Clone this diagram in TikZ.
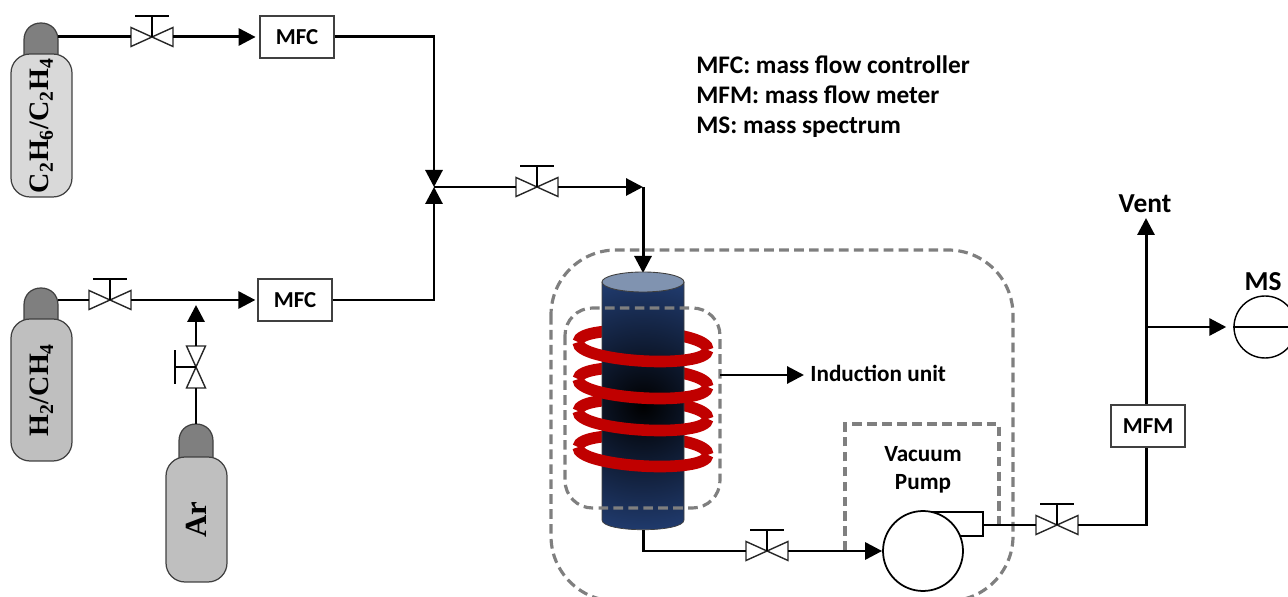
\documentclass[tikz,border=0pt]{standalone}
\usepackage{fontspec}
\setmainfont{Carlito}
\newfontfamily\gasfont{Liberation Serif}
\usetikzlibrary{positioning,arrows.meta}
\definecolor{rigGrey}{HTML}{7F7F7F}
\definecolor{rigEdge}{HTML}{404040}
\definecolor{rigLight}{HTML}{D9D9D9}
\definecolor{rigMid}{HTML}{BFBFBF}
\definecolor{rigNavy}{HTML}{203A6C}
\definecolor{rigTop}{HTML}{8093B0}
\definecolor{rigRed}{HTML}{C00000}
\newcommand{\gas}[1]{{\gasfont\bfseries #1}}

\begin{document}
\begin{tikzpicture}[x=0.02cm, y=-0.02cm,
      a/.style={-{Triangle[length=3.4mm, width=3.4mm]}, line width=1.7pt},
      pipe/.style={line width=1.7pt},
      gap/.style={shorten >=#1},
      box/.style={draw=rigEdge, fill=white, line width=1pt, inner sep=0pt,
        minimum width=1.48cm, minimum height=0.84cm, font=\bfseries\fontsize{13}{15}\selectfont},
      lbl/.style={inner sep=0pt, font=\bfseries\fontsize{13.2}{15}\selectfont},
      leg/.style={inner sep=0pt, anchor=base west, font=\bfseries\fontsize{14.4}{17}\selectfont},
      big/.style={inner sep=0pt, font=\bfseries\fontsize{15.6}{18}\selectfont},
      tank/.style={draw=rigEdge, line width=0.7pt, rounded corners=0.38cm, rotate=90, inner sep=0pt,
        minimum height=1.22cm, font=\fontsize{16}{18}\selectfont},
      dbox/.style={draw=rigGrey, line width=1.8pt, dash pattern=on 5.5pt off 3pt},
      coil/.style={draw=rigRed, line width=6.6pt},
      valve/.pic={
        \draw[line width=0.8pt, fill=white, draw=black!85] (0,0) -- (-21,-9.5) -- (-21,9.5) -- cycle;
        \draw[line width=0.8pt, fill=white, draw=black!85] (0,0) -- (21,-9.5) -- (21,9.5) -- cycle;
        \draw[line width=0.8pt] (0,0) -- (0,-21) (-17,-21) -- (17,-21);
        \coordinate (-w) at (-21,0);
        \coordinate (-e) at (21,0);
      },
      head/.pic={
        \draw[draw=rigEdge, fill=rigGrey, line width=0.7pt] (-17,34) -- (-17,17)
          .. controls (-17,7) and (-10,0) .. (0,0)
          .. controls (10,0) and (17,7) .. (17,17) -- (17,34) -- cycle;
        \coordinate (-top) at (0,0);
        \coordinate (-out) at (17,14);
      }]
    \useasboundingbox (0,0) rectangle (1288,597);
    \clip (0,0) rectangle (1288,597);
    % gas bottles
    \pic (headA) at (41,23) {head};
    \node[tank, fill=rigLight, minimum width=2.86cm] (tankA) at (41.5,125.5)
      {\gas{C\textsubscript{2}H\textsubscript{6}/C\textsubscript{2}H\textsubscript{4}}};
    \pic (headB) at (41,288) {head};
    \node[tank, fill=rigMid, minimum width=2.84cm] (tankB) at (41.5,390)
      {\gas{H\textsubscript{2}/CH\textsubscript{4}}};
    \pic (headC) at (196,424) {head};
    \node[tank, fill=rigMid, minimum width=2.5cm, font=\fontsize{17.5}{20}\selectfont] (tankC) at (196.5,519.5) {\gas{Ar}};
    % feed lines
    \pic (vA) at (152,37) {valve};
    \pic (vB) at (110,300) {valve};
    \pic[rotate=90] (vD) at (196,367) {valve};
    \pic (vC) at (537,187) {valve};
    \node[box] (mfcA) at (297,37) {MFC};
    \node[box] (mfcB) at (295,300) {MFC};
    \coordinate (jn) at (434,187);
    \coordinate (cnr) at (643,187);
    \coordinate (rtop) at (643,273);
    \coordinate (arTip) at (196,305);
    \draw[pipe] (headA-out) -- (vA-w);
    \draw[a, gap=2pt] (vA-e) -- (mfcA.west);
    \draw[a] (mfcA.east) -| (jn);
    \draw[pipe] (headB-out |- vB-w) -- (vB-w);
    \draw[a, gap=1pt] (vB-e) -- (mfcB.west);
    \draw[a] (mfcB.east) -| (jn);
    \draw[pipe] (headC-top) -- (vD-w);
    \draw[a] (vD-e) -- (arTip);
    \draw[pipe] (jn) -- (vC-w);
    \draw[a] (vC-e) -- (cnr);
    \draw[a] (cnr) -- (rtop);
    % legend
    \node[leg] (legA) at (696,74) {MFC: mass flow controller};
    \node[leg] (legB) at (696,104) {MFM: mass flow meter};
    \node[leg] (legC) at (696,134) {MS: mass spectrum};
    % outer dashed frame
    \draw[dbox, rounded corners=1.3cm] (551,250) rectangle (1013,601);
    % back of the coils
    \foreach \cy/\nm in {346/1,383/2,415/3,451/4} {
      \draw[coil, rotate around={-3.4:(643,\cy)}] (578,\cy)
        .. controls (578,\cy-20) and (708,\cy-20) .. (708,\cy);
    }
    % reactor tube
    \begin{scope}
      \clip (602,282) -- (602,520) .. controls (602,533) and (684,533) .. (684,520)
        -- (684,282) -- cycle;
      \shade[inner color=black, outer color=rigNavy] (518,280) rectangle (768,530);
    \end{scope}
    \draw[draw=rigEdge, line width=0.4pt] (602,282) -- (602,520)
      .. controls (602,533) and (684,533) .. (684,520) -- (684,282);
    \draw[draw=rigEdge, fill=rigTop, line width=0.5pt] (643,282) ellipse [x radius=41, y radius=10];
    % front of the coils
    \foreach \cy/\nm in {346/1,383/2,415/3,451/4} {
      \draw[coil, rotate around={-3.4:(643,\cy)}] (578,\cy)
        .. controls (578,\cy+20) and (708,\cy+20) .. (708,\cy);
    }
    % induction unit
    \draw[dbox, rounded corners=0.55cm] (565,308) rectangle (720,508);
    \coordinate (indOut) at (720,375);
    \coordinate (indTip) at (804,375);
    \draw[a] (indOut) -- (indTip);
    \node[lbl, anchor=west] (indL) at (810,373) {Induction unit};
    % pump and exhaust
    \draw[dbox] (845,551) -- (845,424) -- (999,424) -- (999,525);
    \node[lbl, align=center] (pumpL) at (923,470) {Vacuum\\[0.6pt]Pump};
    \draw[line width=1pt] (930,512) -- (983,512) -- (983,536) -- (955,536);
    \node[draw, circle, fill=white, line width=1pt, inner sep=0pt, minimum size=1.6cm] (pump) at (923,551) {};
    \coordinate (rbot) at (643,530);
    \coordinate (pumpOut) at (983,525);
    \coordinate (brn) at (1146,327);
    \coordinate (ventTip) at (1146,218);
    \pic (vE) at (767,551) {valve};
    \pic (vF) at (1057,525) {valve};
    \node[box] (mfm) at (1148,426) {MFM};
    \draw[pipe] (rbot) |- (vE-w);
    \draw[a] (vE-e) -- (pump.west);
    \draw[pipe] (pumpOut) -- (vF-w);
    \draw[pipe] (vF-e) -| (mfm.south -| brn);
    \draw[a] (mfm.north -| brn) -- (ventTip);
    % sampling branch
    \node[draw, circle, fill=white, line width=0.8pt, inner sep=0pt, minimum size=1.24cm] (ms) at (1265,327) {};
    \draw[line width=0.8pt] (ms.west) -- (ms.east);
    \draw[a, gap=4pt] (brn) -- (ms.west);
    \node[big] (ventL) at (1145,204) {Vent};
    \node[big] (msL) at (1263,282) {MS};
  \end{tikzpicture}
\end{document}
